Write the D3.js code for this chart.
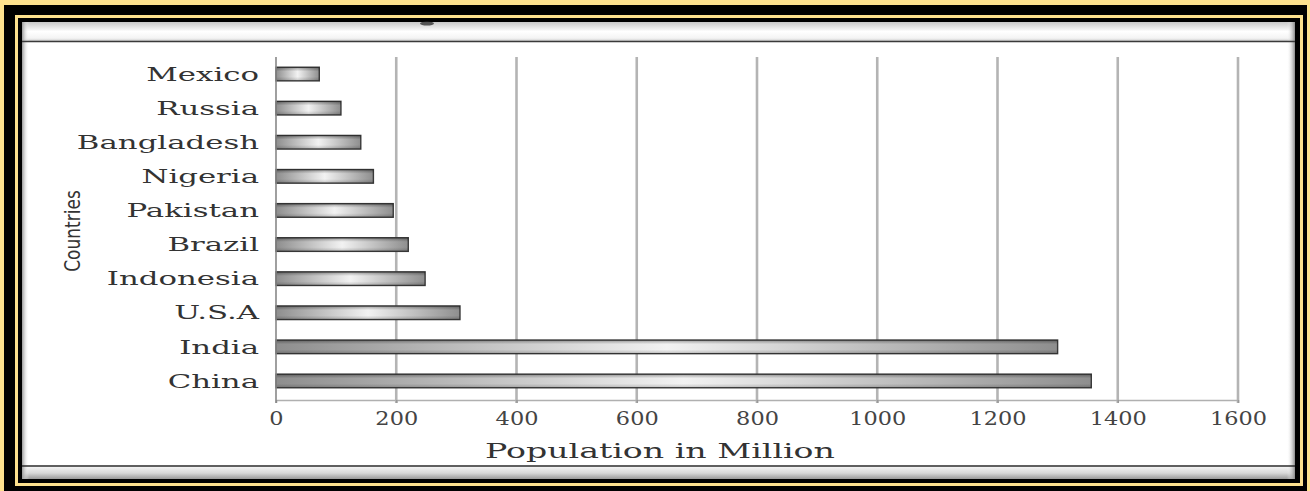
<!DOCTYPE html>
<html>
<head>
<meta charset="utf-8">
<script src="https://cdn.jsdelivr.net/npm/d3@7"></script>
<style>
  body { margin: 0; background: #fde18e; }
  svg { display: block; }
</style>
</head>
<body>
<div id="chart"></div>
<script>
// chart data
var countries = ["Mexico", "Russia", "Bangladesh", "Nigeria", "Pakistan",
                 "Brazil", "Indonesia", "U.S.A", "India", "China"];
var population = [72, 108, 141, 162, 195, 220, 248, 306, 1300, 1356];
var xTicks = [0, 200, 400, 600, 800, 1000, 1200, 1400, 1600];

var W = 1310, H = 491;
var svg = d3.select("#chart").append("svg")
    .attr("width", W).attr("height", H);

var defs = svg.append("defs");

//----------------------------------------------------------
// gradients
function LinGrad(id, horizontal, stops) {
    var g = defs.append("linearGradient").attr("id", id)
        .attr("x1", 0).attr("y1", 0)
        .attr("x2", horizontal ? 1 : 0).attr("y2", horizontal ? 0 : 1);
    stops.forEach(function (s) {
        g.append("stop").attr("offset", s[0]).attr("stop-color", s[1])
            .attr("stop-opacity", s[2] == null ? 1 : s[2]);
    });
}
LinGrad("barH", true, [[0, "#8e8e8e"], [0.5, "#f2f2f2"], [1, "#8e8e8e"]]);
LinGrad("barV", false, [[0, "#000", 0.35], [0.3, "#000", 0], [0.7, "#000", 0], [1, "#000", 0.2]]);
LinGrad("topStrip", false, [[0, "#c8c8c8"], [0.5, "#ffffff"], [0.85, "#f4f4f4"], [1, "#cfcfcf"]]);
LinGrad("botStrip", false, [[0, "#f2f2f2"], [0.5, "#d8d8d8"], [1, "#9a9a9a"]]);
LinGrad("leftEdge", true, [[0, "#9a9a9a"], [1, "#ffffff", 0]]);
LinGrad("rightEdge", true, [[0, "#ffffff", 0], [1, "#8a8a8a"]]);

//----------------------------------------------------------
// frame
svg.append("rect").attr("width", W).attr("height", H).attr("fill", "#fde18e");
svg.append("rect").attr("x", 4).attr("y", 5).attr("width", 1303).attr("height", H - 5).attr("fill", "#000");
svg.append("rect").attr("x", 15).attr("y", 15).attr("width", 1288).attr("height", 471).attr("fill", "#fde18e");
svg.append("rect").attr("x", 18).attr("y", 18).attr("width", 1282).attr("height", 465).attr("fill", "#000");
svg.append("rect").attr("x", 22).attr("y", 22).attr("width", 1273).attr("height", 457).attr("fill", "#fff");
svg.append("rect").attr("x", 22).attr("y", 22).attr("width", 1273).attr("height", 19).attr("fill", "url(#topStrip)");
svg.append("rect").attr("x", 22).attr("y", 467).attr("width", 1273).attr("height", 12).attr("fill", "url(#botStrip)");
svg.append("rect").attr("x", 22).attr("y", 22).attr("width", 7).attr("height", 457).attr("fill", "url(#leftEdge)");
svg.append("rect").attr("x", 1287).attr("y", 22).attr("width", 8).attr("height", 457).attr("fill", "url(#rightEdge)");
svg.append("line").attr("x1", 22).attr("x2", 1295).attr("y1", 41.5).attr("y2", 41.5)
    .attr("stroke", "#3a3a3a").attr("stroke-width", 1.6);
svg.append("line").attr("x1", 22).attr("x2", 1295).attr("y1", 466).attr("y2", 466)
    .attr("stroke", "#2a2a2a").attr("stroke-width", 1.6);
// cut-off title remnant
svg.append("ellipse").attr("cx", 427).attr("cy", 23.5).attr("rx", 7).attr("ry", 2)
    .attr("fill", "#333").attr("opacity", 0.8);

//----------------------------------------------------------
// scales
var x = d3.scaleLinear().domain([0, 1600]).range([276, 1238]);
var y = d3.scaleBand().domain(countries).range([57, 398]).paddingInner(0.6).paddingOuter(0.3);

var fontSerif = "'DejaVu Serif', 'Liberation Serif', serif";

// grid lines
svg.append("g").selectAll("line").data(xTicks.slice(1)).join("line")
    .attr("x1", function (d) { return x(d); }).attr("x2", function (d) { return x(d); })
    .attr("y1", 57).attr("y2", 403)
    .attr("stroke", "#b4b4b4").attr("stroke-width", 2.6);

// x axis
var xAxis = svg.append("g")
    .attr("transform", "translate(0,400)")
    .call(d3.axisBottom(x).tickValues(xTicks).tickSize(3).tickSizeOuter(0).tickFormat(d3.format("d")));
xAxis.select(".domain").attr("stroke", "#b0b0b0").attr("stroke-width", 1.5);
xAxis.selectAll(".tick line").attr("stroke", "#999").attr("stroke-width", 1.5);
xAxis.selectAll("text")
    .attr("y", 25).attr("dy", 0)
    .attr("transform", "scale(1.18,1)")
    .attr("fill", "#444")
    .style("font-family", fontSerif).style("font-size", "19px");

// bars
var bars = svg.append("g").selectAll("g").data(countries).join("g");
bars.append("rect")
    .attr("x", x(0))
    .attr("y", function (d) { return y(d); })
    .attr("width", function (d, i) { return x(population[i]) - x(0); })
    .attr("height", y.bandwidth())
    .attr("fill", "url(#barH)")
    .attr("stroke", "#3a3a3a").attr("stroke-width", 1.4);
bars.append("rect")
    .attr("x", x(0))
    .attr("y", function (d) { return y(d); })
    .attr("width", function (d, i) { return x(population[i]) - x(0); })
    .attr("height", y.bandwidth())
    .attr("fill", "url(#barV)");

// y axis
var labelScale = 1.62;
var yAxis = svg.append("g")
    .attr("transform", "translate(276,0)")
    .call(d3.axisLeft(y).tickSize(0).tickPadding(0));
yAxis.select(".domain").attr("stroke", "#888").attr("stroke-width", 1.6)
    .attr("d", "M0,57V403");
yAxis.selectAll("text")
    .attr("x", -17 / labelScale).attr("dy", "0.35em")
    .attr("transform", "scale(" + labelScale + ",1)")
    .attr("fill", "#333")
    .style("font-family", fontSerif).style("font-size", "19px");

// axis titles
svg.append("text")
    .attr("transform", "translate(660,458) scale(1.58,1)")
    .attr("text-anchor", "middle")
    .attr("fill", "#333")
    .style("font-family", fontSerif).style("font-size", "21px")
    .text("Population in Million");

svg.append("text")
    .attr("transform", "translate(80,231) rotate(-90) scale(0.86,1)")
    .attr("text-anchor", "middle")
    .attr("fill", "#333")
    .style("font-family", "'DejaVu Sans Condensed', 'DejaVu Sans', sans-serif").style("font-size", "22px")
    .text("Countries");
</script>
</body>
</html>
